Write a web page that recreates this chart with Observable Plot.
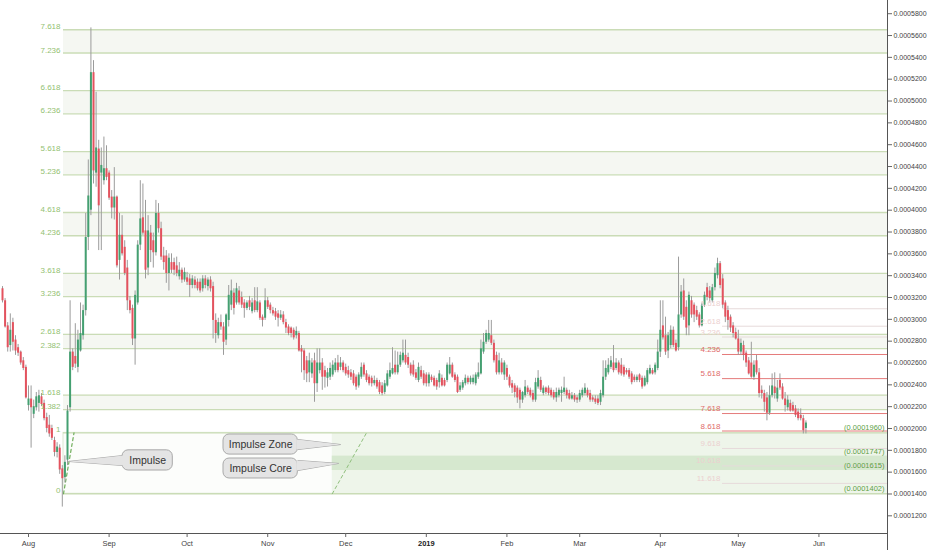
<!DOCTYPE html>
<html><head><meta charset="utf-8">
<script src="https://cdn.jsdelivr.net/npm/d3@7"></script>
<script src="https://cdn.jsdelivr.net/npm/@observablehq/plot@0.6"></script>
<style>html,body{margin:0;padding:0;background:#fff}#chart svg{display:block}</style>
</head><body><div id="chart"></div>
<script>
// Daily candles starting 2018-07-22, prices in units of 1e-6
const startDate = "2018-07-22";
const openP = [
328,317,294,276,297,281,274,270,262,256, 221,227,213,219,223,229,223,210,203,200,
189,178,182,163,155,171,219,270,266,256, 271,285,308,375,400,526,434,456,434,427,
438,434,412,402,412,354,377,366,347,317, 310,282,315,368,393,381,347,379,372,361,
397,383,358,358,342,352,352,349,339,345, 336,338,337,331,336,334,334,328,337,330,
336,330,299,285,297,293,281,299,313,324, 315,326,320,315,310,317,307,317,308,315,
302,301,317,313,308,307,305,301,304,297, 293,292,290,285,287,273,271,262,251,250,
262,241,253,260,253,246,247,249,253,260, 256,260,256,253,251,250,247,239,247,258,
250,247,246,241,244,242,239,233,239,247, 250,258,251,258,262,267,265,258,258,251,
244,253,250,249,241,247,246,244,242,246, 244,244,250,258,249,247,235,237,241,246,
242,242,241,247,250,270,279,281,285,278, 267,251,260,249,255,247,241,239,237,235,
226,230,237,235,232,226,238,244,232,237, 237,235,233,228,230,232,233,235,232,227,
230,228,226,230,232,235,232,228,227,227, 224,230,247,251,256,260,255,260,258,256,
253,253,250,247,244,249,246,239,242,250, 253,251,255,270,294,285,271,276,290,278,
274,304,326,311,294,317,313,308,304,294, 313,329,326,317,329,340,351,337,315,308,
302,294,288,282,270,276,269,262,260,247, 262,251,235,232,228,214,230,238,227,244,
238,227,219,223,221,218,215,212,209,200];
const highP = [
330,319,297,305,301,285,277,271,265,258, 239,239,226,233,235,232,226,214,212,203,
192,187,185,166,175,221,317,273,296,290, 315,313,397,446,567,537,508,464,457,467,
459,436,418,439,413,397,395,372,354,321, 313,326,372,427,424,409,395,386,379,409,
406,389,366,363,360,360,356,357,352,347, 347,343,341,340,339,337,337,340,340,338,
339,334,305,301,304,297,305,331,336,328, 333,330,325,318,317,321,319,329,329,317,
304,328,320,315,311,310,308,308,307,300, 295,293,292,293,289,276,273,266,269,264,
269,273,273,264,257,255,260,262,264,267, 265,262,259,257,254,253,249,251,260,260,
253,249,248,248,246,244,242,244,253,260, 274,271,270,270,281,281,269,260,262,254,
260,257,253,251,251,249,248,246,253,249, 246,260,265,260,251,249,242,244,249,248,
248,249,251,260,281,287,290,299,299,281, 270,269,264,262,258,249,244,241,239,237,
234,244,239,237,235,246,253,247,239,238, 239,237,235,237,237,238,247,237,235,233,
232,230,235,237,241,237,235,230,230,230, 235,262,262,264,266,276,264,262,264,258,
255,255,252,249,249,250,248,248,255,258, 255,260,281,317,317,302,288,294,293,281,
357,331,337,317,325,321,315,312,306,315, 325,333,330,332,347,356,353,341,317,312,
304,297,292,290,282,280,271,265,279,262, 267,255,239,235,233,239,250,251,244,250,
241,233,230,226,224,221,218,218,212,207];
const lowP = [
315,292,270,270,271,267,266,258,253,227, 216,182,209,216,215,220,207,196,192,189,
174,173,158,128,150,166,215,253,255,251, 270,281,303,363,395,424,421,363,363,423,
427,409,392,391,347,336,358,340,308,305, 276,258,313,363,377,337,340,352,347,358,
379,354,345,333,326,342,340,339,336,333, 334,331,320,328,328,326,324,325,328,326,
325,282,278,282,290,267,276,293,308,304, 313,313,310,301,308,308,305,306,306,299,
293,299,309,305,303,299,293,299,295,287, 285,283,281,282,270,251,244,242,242,246,
224,233,250,235,237,238,244,247,251,251, 253,251,248,246,244,239,235,237,245,247,
242,239,238,239,236,231,230,231,238,245, 249,249,249,256,260,258,255,248,247,244,
242,245,239,238,238,242,238,235,237,238, 238,242,249,246,242,232,233,235,239,240,
240,240,239,245,249,268,277,279,276,260, 249,249,249,244,244,237,232,228,223,218,
223,228,231,228,224,224,236,233,230,231, 230,228,226,224,228,224,231,227,226,226,
224,223,224,228,230,228,224,224,222,221, 221,228,244,249,254,251,253,249,248,247,
249,245,240,242,242,242,236,238,240,249, 249,249,253,265,281,267,264,273,274,270,
271,301,299,285,285,301,297,299,292,293, 311,317,315,315,326,337,328,310,297,290,
288,283,281,267,267,262,256,249,246,244, 249,228,227,215,207,212,228,227,224,235,
226,215,216,215,215,210,207,207,195,195];
const closeP = [
317,293,274,290,279,271,269,260,255,228, 227,219,220,229,230,222,209,200,195,191,
178,183,162,154,169,216,270,256,259,281, 287,308,375,413,526,436,457,404,441,438,
430,411,402,412,349,377,360,342,317,308, 282,322,368,392,379,345,381,363,361,397,
383,357,352,342,356,345,345,342,345,336, 343,334,331,337,331,328,326,337,331,336,
328,299,287,297,293,279,304,322,326,310, 328,315,313,310,315,311,315,308,316,301,
299,317,311,308,305,302,301,304,297,292, 287,287,283,289,271,270,253,250,262,260,
241,260,260,247,247,251,255,258,260,253, 260,253,250,249,247,241,238,249,256,249,
244,241,241,244,238,233,232,241,250,253, 255,251,258,267,269,260,258,250,249,246,
256,247,241,241,249,244,239,238,250,239, 239,258,258,247,244,233,239,242,246,242,
246,246,249,251,273,279,287,287,278,262, 251,262,251,260,247,239,237,233,228,226,
233,238,233,230,226,242,246,235,237,233, 232,230,228,233,235,235,237,230,227,230,
226,226,232,235,237,230,226,226,224,223, 232,247,255,258,262,253,260,251,250,249,
251,247,242,244,247,244,238,246,253,255, 250,258,270,290,283,270,285,290,276,271,
304,325,302,292,322,304,304,302,294,313, 322,320,319,329,342,351,331,313,302,299,
292,287,282,270,278,267,260,250,247,258, 251,232,232,224,214,230,239,232,237,237,
227,221,226,216,216,212,209,209,198,205];

// Fibonacci extension of the August impulse (green)
const greenLevels = ["0","1","1.382","1.618","2.382","2.618","3.236","3.618","4.236","4.618","5.236","5.618","6.236","6.618","7.236","7.618"];
const greenValues = [140.2,196.0,217.3,230.5,273.1,286.3,320.8,342.1,376.6,397.9,432.4,453.7,488.2,509.5,544.0,565.3];
const bandPairs = [["1.382","1.618"],["2.382","2.618"],["3.236","3.618"],["4.236","4.618"],["5.236","5.618"],["6.236","6.618"],["7.236","7.618"]];

// Fibonacci levels of the April swing (red)
const redLevels = ["1.618","2.618","3.236","4.236","5.618","7.618","8.618","9.618","10.618","11.618"];
const redValues = [309.7,293.7,283.8,267.8,245.7,213.7,197.7,181.7,165.7,149.7];
const redStrong = ["4.236","5.618","7.618","8.618"];

// Impulse zone
const zoneTop = 196.0, coreTop = 174.7, coreBottom = 161.5, zoneBottom = 140.2;
const priceLabels = ["(0.0001960)","(0.0001747)","(0.0001615)","(0.0001402)"];
const priceLabelValues = [196.0,174.7,161.5,140.2];

const yTicks = [120,140,160,180,200,220,240,260,280,300,320,340,360,380,400,420,440,460,480,500,520,540,560,580];
const monthTicks = ["2018-08-01","2018-09-01","2018-10-01","2018-11-01","2018-12-01","2019-01-01","2019-02-01","2019-03-01","2019-04-01","2019-05-01","2019-06-01"];
const monthLabels = ["Aug","Sep","Oct","Nov","Dec","2019","Feb","Mar","Apr","May","Jun"];

const callouts = ["Impulse","Impulse Zone","Impulse Core"];

// ---- build tables
const U = Date.UTC;
const start = new Date(startDate);
const candles = openP.map((o, i) => ({date: d3.utcDay.offset(start, i), o, h: highP[i], l: lowP[i], c: closeP[i]}));
const xStart = new Date(U(2018,6,21,5,30)), xEnd = new Date(U(2019,5,27,9));
const levelStart = new Date(U(2018,7,14,11));
const zoneStart = new Date(U(2018,10,25,20));
const redStart = new Date(U(2019,3,24,22));
const gv = Object.fromEntries(greenLevels.map((k,i)=>[k,greenValues[i]]));
const bands = bandPairs.map(([a,b]) => ({y1: gv[a], y2: gv[b]}));
const green = greenLevels.map((k,i)=>({k, v: greenValues[i]}));
const red = redLevels.map((k,i)=>({k, v: redValues[i], strong: redStrong.includes(k)}));
const rightLabels = priceLabels.map((t,i)=>({t, v: priceLabelValues[i]}));
const months = monthTicks.map((s,i)=>({date: new Date(s), label: monthLabels[i]}));

const impulseLine = [{date: levelStart, v: zoneBottom}, {date: new Date(U(2018,7,18,12)), v: zoneTop}];
const zoneLine = [{date: zoneStart, v: zoneBottom}, {date: new Date(U(2018,11,9,0)), v: zoneTop}];

const boxes = [
  {t: callouts[0], x1: new Date(U(2018,8,6,4)), x2: new Date(U(2018,8,25,12)), y1: 161.5, y2: 180.0},
  {t: callouts[1], x1: new Date(U(2018,9,15,0)), x2: new Date(U(2018,10,12,14)), y1: 176.1, y2: 194.5},
  {t: callouts[2], x1: new Date(U(2018,9,15,0)), x2: new Date(U(2018,10,12,14)), y1: 154.2, y2: 172.5}
];
const pointers = [
  [{date: new Date(U(2018,8,6,4)), v: 175.2}, {date: new Date(U(2018,7,16,10)), v: 169.8}, {date: new Date(U(2018,8,6,4)), v: 166.1}],
  [{date: new Date(U(2018,10,12,14)), v: 189.9}, {date: new Date(U(2018,10,29,0)), v: 185.3}, {date: new Date(U(2018,10,12,14)), v: 180.7}],
  [{date: new Date(U(2018,10,12,14)), v: 170.7}, {date: new Date(U(2018,10,28,6)), v: 168.0}, {date: new Date(U(2018,10,12,14)), v: 161.5}]
];
const pointerCovers = pointers.map((p, j) => {
  const shift = j === 0 ? 12 : -12; // hours, into the box
  return p.map((q, i) => i === 1 ? q : {date: new Date(+q.date + shift*3600e3), v: q.v});
});

const up = "#44a071", down = "#e4525e", wick = "#9b9b9b";
const lineGreen = "#cadcb6", labelGreen = "#93bf72";
const font = "Liberation Sans, Arial, sans-serif";

const chart = Plot.plot({
  width: 932, height: 550,
  marginLeft: 0, marginRight: 45, marginTop: 0, marginBottom: 17,
  style: {fontFamily: font, background: "#fff", overflow: "visible"},
  x: {type: "utc", domain: [xStart, xEnd]},
  y: {domain: [103.8, 592.1]},
  color: {type: "identity"},
  marks: [
    // shaded band pairs
    Plot.rect(bands, {x1: levelStart, x2: xEnd, y1: "y1", y2: "y2", fill: "#f5f7f2"}),
    // impulse rectangle (0 .. 1)
    Plot.rect([0], {x1: levelStart, x2: xEnd, y1: zoneBottom, y2: zoneTop, fill: "#fcfdfb", stroke: "#dbe7d2", strokeWidth: 1}),
    Plot.rect([0], {x1: zoneStart, x2: xEnd, y1: zoneBottom, y2: zoneTop, fill: "#eef5ea"}),
    Plot.rect([0], {x1: zoneStart, x2: xEnd, y1: coreBottom, y2: coreTop, fill: "#d6e8cf"}),
    // green level lines
    Plot.ruleY(green, {y: "v", x1: levelStart, x2: xEnd, stroke: lineGreen, strokeWidth: 1.3}),
    // red level lines
    Plot.ruleY(red, {y: "v", x1: redStart, x2: xEnd, stroke: d => d.strong ? "#e57b7b" : "#e6dada", strokeWidth: d => d.strong ? 1 : 1}),
    // dashed diagonals
    Plot.line(impulseLine, {x: "date", y: "v", stroke: "#6fae5a", strokeWidth: 1.2, strokeDasharray: "3,3"}),
    Plot.line(zoneLine, {x: "date", y: "v", stroke: "#8fbf7c", strokeWidth: 1, strokeDasharray: "3,3"}),
    // candles
    Plot.ruleX(candles, {x: "date", y1: "l", y2: "h", stroke: wick, strokeWidth: 1}),
    Plot.ruleX(candles, {x: "date", y1: "o", y2: "c", stroke: d => d.c >= d.o ? up : down, strokeWidth: 2}),
    // level labels
    Plot.text(green, {x: levelStart, y: "v", text: "k", textAnchor: "end", dx: -3, dy: -3, fill: labelGreen, fontSize: 8}),
    Plot.text(red, {x: redStart, y: "v", text: "k", textAnchor: "end", dx: -2, dy: -5, fill: d => d.strong ? "#e06a6a" : "#ecd0d0", fontSize: 8}),
    Plot.text(rightLabels, {x: xEnd, y: "v", text: "t", textAnchor: "end", dx: -3, dy: -5, fill: "#5e9f45", fontSize: 7.5}),
    // callouts
    ...pointers.map(p => Plot.line(p, {x: "date", y: "v", fill: "#e4e4e4", stroke: "#a9a9a9", strokeWidth: 1})),
    Plot.rect(boxes, {x1: "x1", x2: "x2", y1: "y1", y2: "y2", fill: "#e4e4e4", stroke: "#a9a9a9", strokeWidth: 1, rx: 6}),
    ...pointerCovers.map(p => Plot.line(p, {x: "date", y: "v", fill: "#e4e4e4", stroke: "none"})),
    Plot.text(boxes, {x: d => new Date((+d.x1 + +d.x2)/2), y: d => (d.y1 + d.y2)/2, text: "t", fill: "#333", fontSize: 10.5}),
    // axes
    Plot.ruleY([103.8], {x1: xStart, x2: xEnd, stroke: "#555", strokeWidth: 1}),
    Plot.ruleX([xEnd], {y1: 88.2, y2: 592.1, stroke: "#555", strokeWidth: 1}),
    Plot.axisY({anchor: "right", ticks: yTicks, tickFormat: d => (d*1e-6).toFixed(7), tickSize: 4, tickPadding: 2, fontSize: 7, stroke: "#666", color: "#444"}),
    Plot.axisX({ticks: months.map(m => m.date), tickFormat: () => "", tickSize: 4, stroke: "#666"}),
    Plot.text(months.filter(m => m.label !== "2019"), {x: "date", text: "label", frameAnchor: "bottom", dy: 12, fill: "#444", fontSize: 7.5}),
    Plot.text(months.filter(m => m.label === "2019"), {x: "date", text: "label", frameAnchor: "bottom", dy: 12, fill: "#222", fontSize: 7.5, fontWeight: "bold"})
  ]
});
document.getElementById("chart").appendChild(chart);
</script>
</body></html>
